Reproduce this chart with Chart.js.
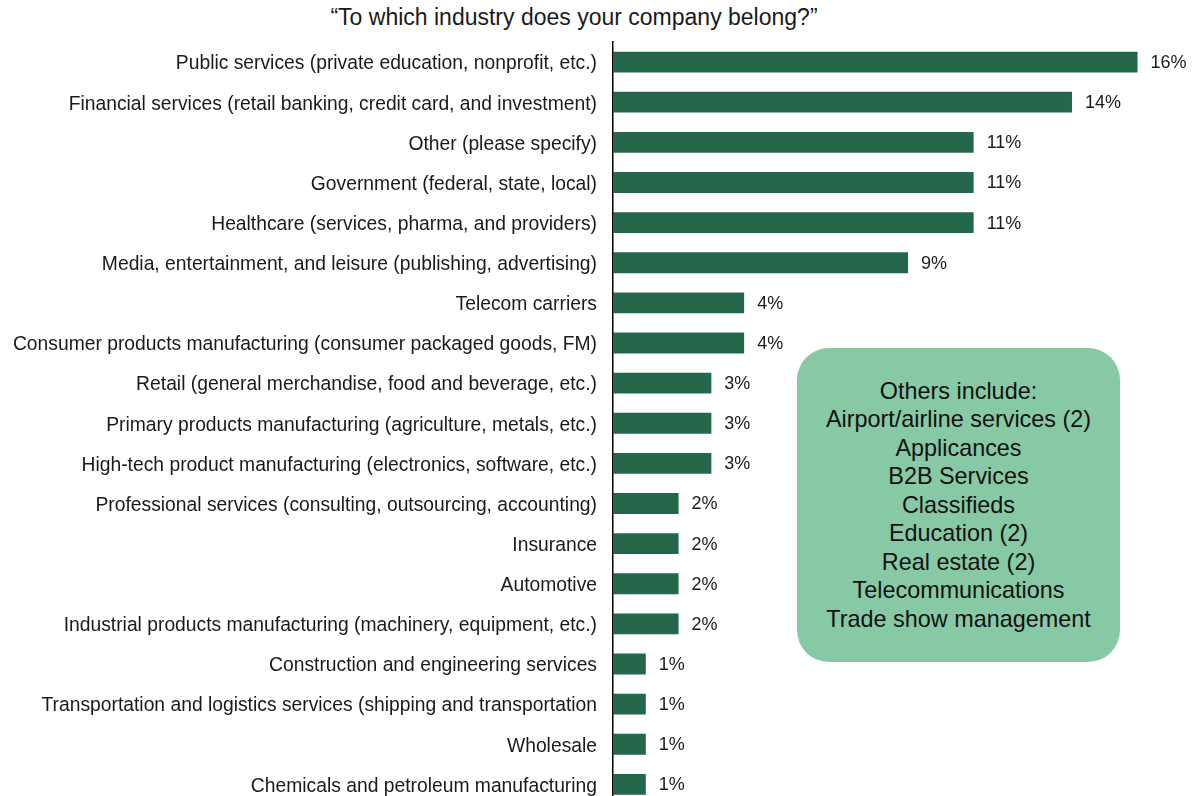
<!DOCTYPE html>
<html>
<head>
<meta charset="utf-8">
<script src="https://cdn.jsdelivr.net/npm/chart.js@4/dist/chart.umd.min.js"></script>
<style>
  html, body { margin: 0; padding: 0; background: #fff; overflow: hidden; }
  body { width: 1194px; height: 796px; position: relative; font-family: "Liberation Sans", Arial, sans-serif; }
  #title { position: absolute; left: 274px; width: 600px; top: 4px; text-align: center; font-size: 23px; color: #1a1a1a; }
  #note {
    position: absolute; left: 797px; top: 348px; width: 323px; height: 314px;
    border-radius: 32px; background: #88c9a5; color: #111;
    display: flex; flex-direction: column; justify-content: center; align-items: center;
    font-size: 23.4px; line-height: 28.5px; text-align: center;
  }
  canvas { position: absolute; left: 0; top: 0; }
</style>
</head>
<body>
<div id="title">“To which industry does your company belong?”</div>
<canvas id="industryChart" width="1194" height="832"></canvas>
<div id="note"></div>

<script>
// categories, top to bottom
const industries = [
    'Public services (private education, nonprofit, etc.)',
    'Financial services (retail banking, credit card, and investment)',
    'Other (please specify)',
    'Government (federal, state, local)',
    'Healthcare (services, pharma, and providers)',
    'Media, entertainment, and leisure (publishing, advertising)',
    'Telecom carriers',
    'Consumer products manufacturing (consumer packaged goods, FM)',
    'Retail (general merchandise, food and beverage, etc.)',
    'Primary products manufacturing (agriculture, metals, etc.)',
    'High-tech product manufacturing (electronics, software, etc.)',
    'Professional services (consulting, outsourcing, accounting)',
    'Insurance',
    'Automotive',
    'Industrial products manufacturing (machinery, equipment, etc.)',
    'Construction and engineering services',
    'Transportation and logistics services (shipping and transportation',
    'Wholesale',
    'Chemicals and petroleum manufacturing'
];

// share of respondents, percent
const shares = [16, 14, 11, 11, 11, 9, 4, 4, 3, 3, 3, 2, 2, 2, 2, 1, 1, 1, 1];

const otherIncludes = [
    'Others include:',
    'Airport/airline services (2)',
    'Applicances',
    'B2B Services',
    'Classifieds',
    'Education (2)',
    'Real estate (2)',
    'Telecommunications',
    'Trade show management'
];

document.getElementById('note').innerHTML = otherIncludes.map(t => `<div>${t}</div>`).join('');

const FONT = '"Liberation Sans", Arial, sans-serif';

// draws the "16%" style labels at the end of each bar
const valueLabels = {
    id: 'valueLabels',
    afterDatasetsDraw(chart) {
        const ctx = chart.ctx;
        const meta = chart.getDatasetMeta(0);
        ctx.save();
        ctx.font = '18px ' + FONT;
        ctx.fillStyle = '#1a1a1a';
        ctx.textAlign = 'left';
        ctx.textBaseline = 'middle';
        meta.data.forEach((bar, i) => {
            ctx.fillText(shares[i] + '%', bar.x + 13, bar.y + 1);
        });
        ctx.restore();
    }
};

new Chart(document.getElementById('industryChart'), {
    type: 'bar',
    data: {
        labels: industries,
        datasets: [{
            data: shares,
            backgroundColor: '#24674a',
            borderWidth: 0,
            categoryPercentage: 1,
            barPercentage: 0.52
        }]
    },
    options: {
        indexAxis: 'y',
        responsive: false,
        animation: false,
        layout: { padding: { top: 42, right: 4, left: 0, bottom: 0 } },
        plugins: { legend: { display: false }, tooltip: { enabled: false } },
        scales: {
            x: {
                display: false,
                min: 0,
                max: 17.6
            },
            y: {
                afterFit(axis) { axis.width = 613; },
                grid: { display: false, drawTicks: false },
                border: { display: true, color: '#000', width: 1.5 },
                ticks: {
                    padding: 16,
                    labelOffset: 2,
                    color: '#1a1a1a',
                    font: { family: FONT, size: 19.3 },
                    autoSkip: false
                }
            }
        }
    },
    plugins: [valueLabels]
});
</script>
</body>
</html>
